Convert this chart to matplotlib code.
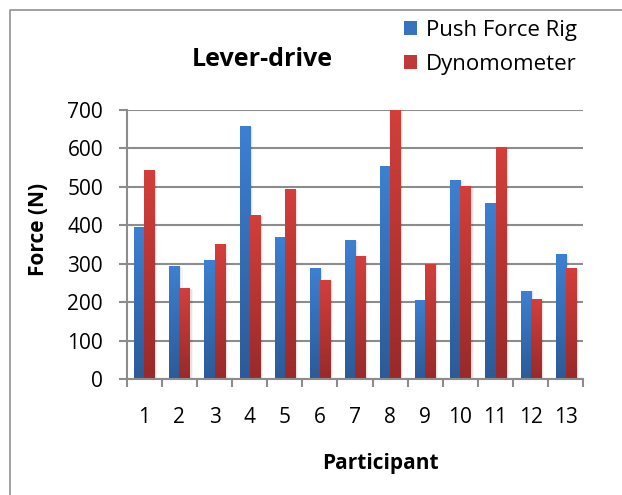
import numpy as np
import matplotlib
matplotlib.use("Agg")
import matplotlib.pyplot as plt
from matplotlib.colors import LinearSegmentedColormap
from matplotlib.patches import Rectangle

participants = ["1", "2", "3", "4", "5", "6", "7", "8", "9", "10", "11", "12", "13"]
push_force_rig = [396, 294, 310, 658, 370, 289, 362, 555, 206, 518, 458, 230, 326]
dynomometer = [544, 237, 352, 427, 495, 258, 321, 700, 301, 502, 604, 209, 289]
y_ticks = [0, 100, 200, 300, 400, 500, 600, 700]

plt.rcParams["font.family"] = ["Open Sans", "DejaVu Sans"]

fig = plt.figure(figsize=(6.22, 4.95), dpi=100)
ax = fig.add_axes([0.2037, 0.2337, 0.7341, 0.5441])

x = np.arange(len(participants))
w = 0.2857
grid_c = "#8c8c8c"

blue_map = LinearSegmentedColormap.from_list("b", ["#2c5a97", "#3d80d2"])
red_map = LinearSegmentedColormap.from_list("r", ["#982a2a", "#d33f3b"])


def gradient_bars(xpos, values, cmap, z):
    bars = ax.bar(xpos, values, width=w, color="none", edgecolor="none", zorder=z)
    grad = np.linspace(0, 1, 256).reshape(-1, 1)
    for b in bars:
        bx, by = b.get_x(), b.get_y()
        bw, bh = b.get_width(), b.get_height()
        # soft drop shadow on the right side
        for k, a in enumerate([0.10, 0.07, 0.04]):
            ax.add_patch(Rectangle((bx + bw, by), 0.03 * (k + 1), bh * 0.995,
                                   facecolor="black", alpha=a, edgecolor="none",
                                   zorder=z - 0.5))
        im = ax.imshow(grad, cmap=cmap, aspect="auto", origin="lower",
                       extent=[bx, bx + bw, by, by + bh], zorder=z,
                       interpolation="bilinear")
        im.set_clip_path(b)
    return bars


gradient_bars(x - w / 2, push_force_rig, blue_map, 3)
gradient_bars(x + w / 2, dynomometer, red_map, 3)
ax.set_xlim(-0.5, len(participants) - 0.5)
ax.set_ylim(0, 700)

ax.set_yticks(y_ticks)
ax.set_xticks(x)
ax.set_xticklabels(participants)
ax.set_xticks(np.arange(-0.5, len(participants)), minor=True)
ax.tick_params(axis="x", which="major", length=0, pad=20, labelsize=15)
ax.tick_params(axis="x", which="minor", length=6, width=1.5, color=grid_c)
ax.tick_params(axis="y", which="major", length=6, width=1.5, color=grid_c,
               pad=11, labelsize=15)
ax.yaxis.grid(True, color=grid_c, linewidth=1.5, zorder=1)
ax.set_axisbelow(True)

for s in ["top", "right"]:
    ax.spines[s].set_visible(False)
for s in ["left", "bottom"]:
    ax.spines[s].set_color(grid_c)
    ax.spines[s].set_linewidth(1.5)
    ax.spines[s].set_zorder(5)

fig.text(380 / 622, 1 - 464 / 495, "Participant", ha="center", va="center",
         fontsize=15, fontweight="bold")
fig.text(39 / 622, 1 - 229 / 495, "Force (N)", rotation=90, ha="center", va="center",
         fontsize=15, fontweight="bold")
fig.text(262 / 622, 1 - 60 / 495, "Lever-drive", ha="center", va="center",
         fontsize=18, fontweight="bold")

handles = [Rectangle((0, 0), 1, 1, facecolor="#3873c0"),
           Rectangle((0, 0), 1, 1, facecolor="#c13836")]
fig.legend(handles, ["Push Force Rig", "Dynomometer"], loc="upper left",
           bbox_to_anchor=(404 / 622, 1 - 20 / 495), frameon=False, fontsize=16,
           handlelength=0.6, handleheight=0.6, handletextpad=0.4,
           labelspacing=0.58, borderaxespad=0, borderpad=0)

# chart area border
fig.add_artist(plt.Line2D([9.5 / 622, 9.5 / 622, 1.0], [0.0, 1 - 9.5 / 495, 1 - 9.5 / 495],
                          transform=fig.transFigure, color="#9a9a9a", linewidth=1.3))

fig.savefig("out.png", dpi=100)
